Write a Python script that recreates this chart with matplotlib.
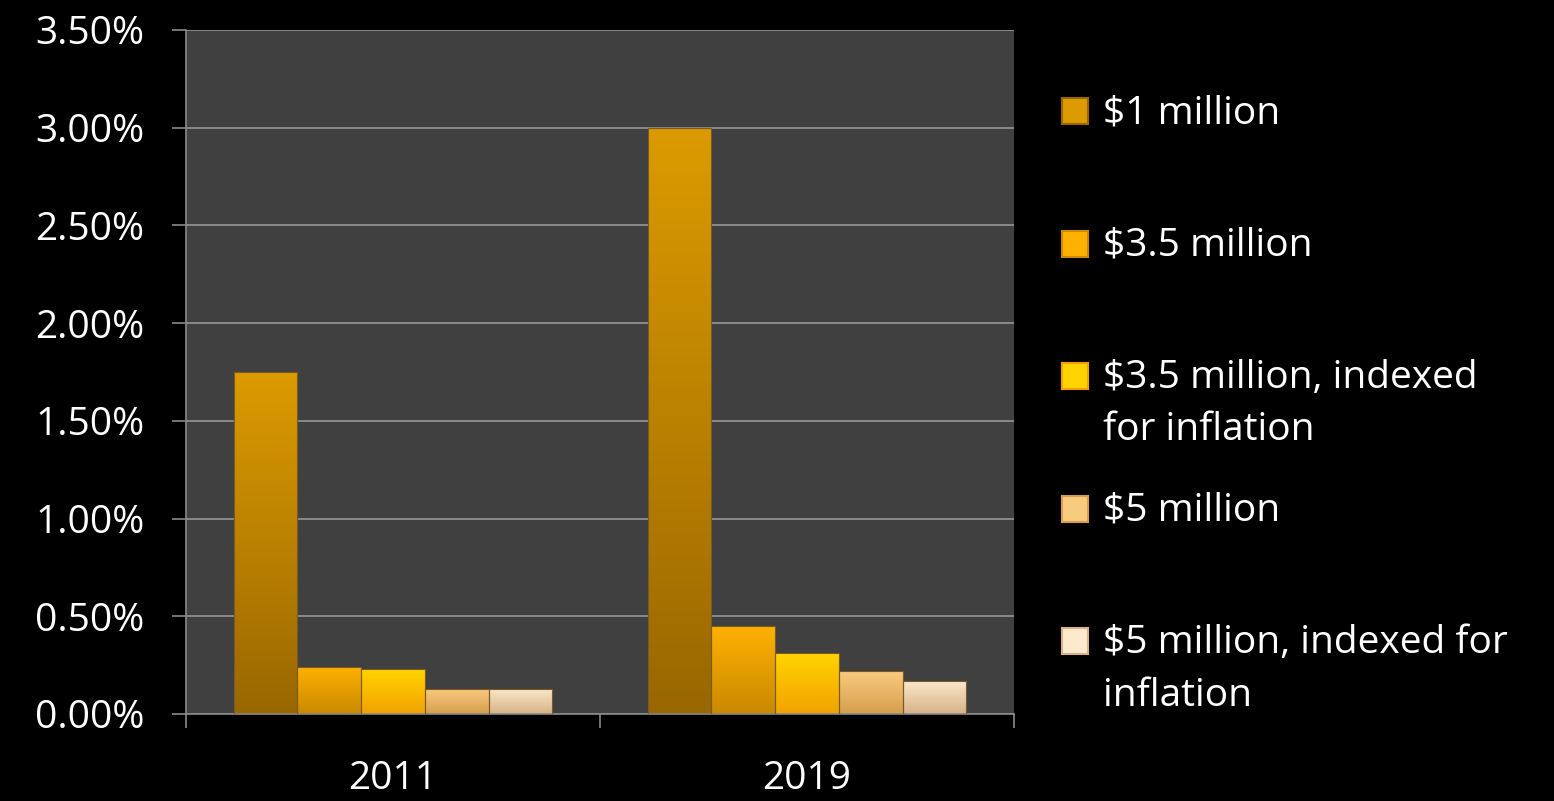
import numpy as np
import matplotlib.pyplot as plt
from matplotlib.colors import LinearSegmentedColormap
from matplotlib.patches import Rectangle

plt.rcParams['font.family'] = ['Open Sans', 'DejaVu Sans']

years = ["2011", "2019"]
series = [
    "$1 million",
    "$3.5 million",
    "$3.5 million, indexed\nfor inflation",
    "$5 million",
    "$5 million, indexed for\ninflation",
]
# share of estates paying tax (%), one list per exemption level
rate_1m = [1.75, 3.00]
rate_35m = [0.24, 0.45]
rate_35m_idx = [0.23, 0.31]
rate_5m = [0.13, 0.22]
rate_5m_idx = [0.13, 0.17]
rates = [rate_1m, rate_35m, rate_35m_idx, rate_5m, rate_5m_idx]

yticks = [0, 0.5, 1.0, 1.5, 2.0, 2.5, 3.0, 3.5]

# (bottom, top) colours for each series' vertical gradient
shades = [
    ("#996700", "#dc9b00"),
    ("#c98900", "#ffb102"),
    ("#f2a200", "#ffd400"),
    ("#d69e4e", "#f9cb7e"),
    ("#d6b288", "#fde9cb"),
]

W, H = 1554, 801
fig = plt.figure(figsize=(W / 100, H / 100), dpi=100, facecolor="black")
ax = fig.add_axes([186 / W, 1 - 714 / H, 828 / W, 684 / H])
ax.set_facecolor("#404040")

n = len(series)
width = 1 / (n + 1.5)
x = np.arange(len(years))
grad = np.linspace(0, 1, 256).reshape(-1, 1)

for i, (vals, (lo, hi)) in enumerate(zip(rates, shades)):
    bars = ax.bar(x + (i - (n - 1) / 2) * width, vals, width,
                  color="none", edgecolor="#7a5a20", linewidth=0.8, zorder=3)
    cmap = LinearSegmentedColormap.from_list(f"s{i}", [lo, hi])
    for b in bars:
        x0, w, h = b.get_x(), b.get_width(), b.get_height()
        im = ax.imshow(grad, cmap=cmap, origin="lower", aspect="auto",
                       extent=(x0, x0 + w, 0, h), zorder=2)
        im.set_clip_path(b)

ax.set_xlim(-0.5, len(years) - 0.5)
ax.set_ylim(0, 3.5)
ax.set_yticks(yticks)
ax.set_yticklabels([f"{v:.2f}%" for v in yticks])
ax.set_xticks(x)
ax.set_xticklabels(years)
ax.set_xticks(np.arange(len(years) + 1) - 0.5, minor=True)

ax.yaxis.grid(True, color="#8a8a8a", linewidth=1.4, zorder=1)
ax.set_axisbelow(True)
for side in ("top", "right"):
    ax.spines[side].set_visible(False)
for side in ("left", "bottom"):
    ax.spines[side].set_color("#8a8a8a")
    ax.spines[side].set_linewidth(1.2)

ax.tick_params(axis="y", colors="#8a8a8a", labelcolor="white",
               labelsize=28, length=10, width=1.2, pad=20)
ax.tick_params(axis="x", which="major", length=0, labelcolor="white",
               labelsize=28, pad=33)
ax.tick_params(axis="x", which="minor", colors="#8a8a8a", length=10, width=1.2)

# legend: squares aligned with the first line of each label
first_top = 94
step = 132.5
for i, (label, (lo, hi)) in enumerate(zip(series, shades)):
    ytop = first_top + i * step
    fig.patches.append(Rectangle((1062 / W, 1 - (ytop + 30) / H), 26 / W, 26 / H,
                                 transform=fig.transFigure, facecolor=hi,
                                 edgecolor=lo, linewidth=1.5))
    fig.text(1103 / W, 1 - ytop / H, label, color="white", fontsize=28,
             va="top", ha="left", linespacing=1.5)

fig.savefig("out.png", dpi=100, facecolor="black")
